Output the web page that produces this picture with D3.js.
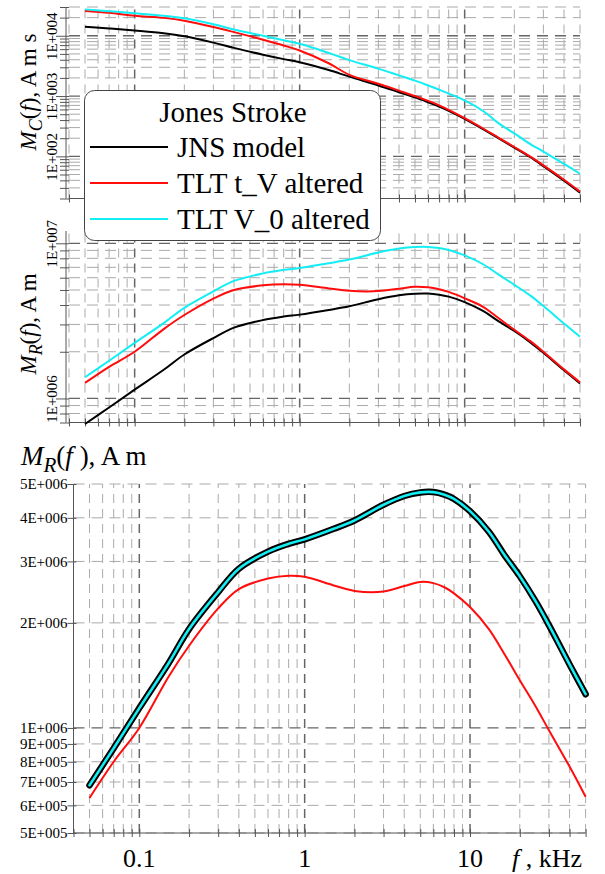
<!DOCTYPE html>
<html>
<head>
<meta charset="utf-8">
<script src="https://cdn.jsdelivr.net/npm/d3@7"></script>
<style>
  html, body { margin: 0; padding: 0; background: #fff; }
  svg { display: block; font-family: "Liberation Serif", "Times New Roman", serif; }
</style>
</head>
<body>
<svg id="chart" width="605" height="874"></svg>
<script>
// Frequency samples, kHz
const freq = [0.05, 0.07, 0.1, 0.15, 0.2, 0.3, 0.4, 0.6, 0.8, 1, 1.5, 2, 3, 4, 5, 6, 7, 8, 10, 13, 16, 20, 25, 30, 40, 50];

// Charge moment spectrum M_C(f), A m s
const mcJNS = [14100, 13200, 12200, 11000, 9800, 7700, 6300, 4850, 4100, 3640, 2700, 2100, 1500, 1160, 950, 790, 670, 570, 420, 280, 200, 140, 97, 69, 39.5, 25];
const mcTV  = [25800, 24000, 21500, 19800, 17800, 14000, 11500, 8600, 6900, 5700, 3500, 2250, 1600, 1230, 1000, 830, 700, 590, 430, 287, 205, 143, 99, 71, 41, 26];
const mcV0  = [27400, 25500, 23600, 21500, 19500, 15500, 12700, 10000, 8400, 7360, 5200, 3950, 2850, 2200, 1800, 1500, 1280, 1100, 850, 560, 355, 240, 160, 120, 75, 51.5];

// Current moment spectrum M_R(f), A m
const mrJNS = [6.85e5, 8.75e5, 1.14e6, 1.53e6, 1.92e6, 2.45e6, 2.86e6, 3.2e6, 3.37e6, 3.47e6, 3.72e6, 3.93e6, 4.36e6, 4.62e6, 4.73e6, 4.74e6, 4.66e6, 4.53e6, 4.18e6, 3.65e6, 3.15e6, 2.72e6, 2.3e6, 1.97e6, 1.52e6, 1.25e6];
const mrTV  = [1.26e6, 1.6e6, 2.0e6, 2.8e6, 3.45e6, 4.4e6, 5.0e6, 5.36e6, 5.45e6, 5.4e6, 5.12e6, 4.94e6, 4.92e6, 5.1e6, 5.24e6, 5.2e6, 5.06e6, 4.86e6, 4.42e6, 3.88e6, 3.3e6, 2.77e6, 2.34e6, 2.0e6, 1.54e6, 1.27e6];
const mrV0  = [1.37e6, 1.75e6, 2.28e6, 3.06e6, 3.84e6, 4.9e6, 5.72e6, 6.4e6, 6.74e6, 6.94e6, 7.44e6, 7.86e6, 8.72e6, 9.24e6, 9.46e6, 9.48e6, 9.32e6, 9.06e6, 8.36e6, 7.3e6, 6.3e6, 5.4e6, 4.6e6, 3.94e6, 3.04e6, 2.5e6];

// Lower plot: altered spectra at half amplitude, compared with the model
const mrTVhalf = [6.3e5, 8.0e5, 1.0e6, 1.4e6, 1.72e6, 2.2e6, 2.5e6, 2.68e6, 2.73e6, 2.71e6, 2.56e6, 2.47e6, 2.46e6, 2.55e6, 2.62e6, 2.6e6, 2.53e6, 2.43e6, 2.22e6, 1.92e6, 1.64e6, 1.37e6, 1.15e6, 0.985e6, 0.775e6, 0.635e6];
const mrV0half = [6.85e5, 8.75e5, 1.14e6, 1.53e6, 1.92e6, 2.45e6, 2.86e6, 3.2e6, 3.37e6, 3.47e6, 3.72e6, 3.93e6, 4.36e6, 4.62e6, 4.73e6, 4.74e6, 4.66e6, 4.53e6, 4.18e6, 3.65e6, 3.15e6, 2.72e6, 2.3e6, 1.97e6, 1.52e6, 1.25e6];

const seriesNames = ["JNS model", "TLT t_V altered", "TLT V_0 altered"];
const legendTitle = "Jones Stroke";
const xTickLabels = [0.1, 1, 10];
const bottomYTicks = [5e5, 6e5, 7e5, 8e5, 9e5, 1e6, 2e6, 3e6, 4e6, 5e6];
const xDomain = [0.04, 50];

const BLACK = "#000000", RED = "#ff0d0d", CYAN = "#12eef4";
const svg = d3.select("#chart");

const isMajor = v => Math.abs(Math.log10(v) - Math.round(Math.log10(v))) < 1e-6;
const sci = v => {
  const e = Math.floor(Math.log10(v) + 1e-9);
  const m = Math.round(v / Math.pow(10, e));
  return m + "E+" + String(e).padStart(3, "0");
};

function drawPanel(cfg) {
  const x = d3.scaleLog().domain(xDomain).range(cfg.xr);
  const y = d3.scaleLog().domain(cfg.yd).range(cfg.yr);
  const g = svg.append("g");
  const [x0, x1] = cfg.xr, [yb, yt] = cfg.yr;

  // grid
  const grid = g.append("g").attr("fill", "none");
  x.ticks().forEach(v => {
    const maj = isMajor(v);
    grid.append("line")
      .attr("x1", x(v)).attr("x2", x(v)).attr("y1", yb).attr("y2", yt)
      .attr("stroke", maj ? "#666" : "#aaa").attr("stroke-width", maj ? 1.5 : 1)
      .attr("stroke-dasharray", "9,6");
  });
  y.ticks().forEach(v => {
    const maj = isMajor(v);
    grid.append("line")
      .attr("x1", x0).attr("x2", x1).attr("y1", y(v)).attr("y2", y(v))
      .attr("stroke", maj ? "#666" : "#aaa").attr("stroke-width", maj ? 1.3 : 1)
      .attr("stroke-dasharray", "11,7");
  });

  // x axis with ticks crossing the line
  const xAxis = g.append("g").attr("transform", `translate(0,${yb})`)
    .call(d3.axisBottom(x).tickValues(x.ticks()).tickSize(4).tickFormat(""));
  xAxis.select(".domain").attr("stroke", "#555").attr("d", `M${x0},0H${x1}`);
  xAxis.selectAll(".tick line").attr("y1", -4).attr("y2", 4).attr("stroke", "#555");

  // y axis
  const yVals = cfg.yTicks || y.ticks();
  const yAxis = g.append("g").attr("transform", `translate(${x0 - cfg.axisGap},0)`)
    .call(d3.axisLeft(y).tickValues(yVals).tickSize(5)
      .tickFormat(d => (cfg.labelAll || isMajor(d)) ? sci(d) : ""));
  yAxis.attr("font-family", null).attr("font-size", null);
  yAxis.select(".domain").attr("stroke", "#555").attr("d", `M0,${yb}V${yt}`);
  yAxis.selectAll(".tick line")
    .attr("x1", d => isMajor(d) && !cfg.labelAll ? -10 : -6)
    .attr("x2", 3).attr("stroke", "#555");
  yAxis.selectAll(".tick text").attr("fill", "#000").attr("font-size", cfg.tickFont);
  if (cfg.rotateLabels) {
    yAxis.selectAll(".tick text")
      .attr("transform", "rotate(-90)")
      .attr("x", 0).attr("y", -cfg.labelOffset).attr("dy", 0)
      .attr("text-anchor", "middle");
  } else {
    yAxis.selectAll(".tick text").attr("x", -6).attr("dy", "0.33em");
  }
  return { x, y, g };
}

function drawSeries(p, values, color, width, extra) {
  const line = d3.line()
    .x((d, i) => p.x(freq[i])).y(d => p.y(d))
    .curve(d3.curveCatmullRom.alpha(0.5));
  const path = p.g.append("path").datum(values)
    .attr("d", line).attr("fill", "none")
    .attr("stroke", color).attr("stroke-width", width)
    .attr("stroke-linejoin", "round");
  if (extra) extra(path);
}

function axisTitle(sel, sub, rest, size) {
  sel.append("tspan").attr("font-style", "italic").text("M");
  sel.append("tspan").attr("font-style", "italic").attr("font-size", size * 0.78).attr("dy", size * 0.26).text(sub);
  sel.append("tspan").attr("dy", -size * 0.26).text("(");
  sel.append("tspan").attr("font-style", "italic").text("f");
  sel.append("tspan").text(rest);
}

// ---- upper panel: M_C ----
const pTop = drawPanel({
  xr: [69, 580], yd: [20, 3e4], yr: [198.5, 7],
  axisGap: 3, tickFont: 15, rotateLabels: true, labelOffset: 9
});
drawSeries(pTop, mcJNS, BLACK, 2);
drawSeries(pTop, mcTV, RED, 2);
drawSeries(pTop, mcV0, CYAN, 2);
axisTitle(svg.append("text").attr("transform", "translate(36,92) rotate(-90)")
  .attr("text-anchor", "middle").attr("font-size", 23), "C", "), A m s", 23);

// ---- middle panel: M_R ----
const pMid = drawPanel({
  xr: [69, 580], yd: [7e5, 1.2e7], yr: [422.5, 231],
  axisGap: 3, tickFont: 15, rotateLabels: true, labelOffset: 9
});
drawSeries(pMid, mrJNS, BLACK, 2);
drawSeries(pMid, mrTV, RED, 2);
drawSeries(pMid, mrV0, CYAN, 2);
axisTitle(svg.append("text").attr("transform", "translate(36,324) rotate(-90)")
  .attr("text-anchor", "middle").attr("font-size", 23), "R", "), A m", 23);

// ---- legend ----
const lg = svg.append("g");
lg.append("rect").attr("x", 84.5).attr("y", 90.5).attr("width", 296).attr("height", 150)
  .attr("rx", 10).attr("fill", "#fff").attr("stroke", "#444").attr("stroke-width", 1);
lg.append("text").attr("x", 233).attr("y", 122).attr("text-anchor", "middle")
  .attr("font-size", 29).text(legendTitle);
[BLACK, RED, CYAN].forEach((c, i) => {
  const yy = 147 + i * 36;
  lg.append("line").attr("x1", 90).attr("x2", 168).attr("y1", yy).attr("y2", yy)
    .attr("stroke", c).attr("stroke-width", 2);
  lg.append("text").attr("x", 177).attr("y", yy + 10).attr("font-size", 29).text(seriesNames[i]);
});

// ---- lower panel: M_R comparison ----
const pBot = drawPanel({
  xr: [73.5, 585.6], yd: [5e5, 5e6], yr: [833, 484],
  axisGap: 0, tickFont: 15, rotateLabels: false, labelAll: true, yTicks: bottomYTicks
});
drawSeries(pBot, mrTVhalf, RED, 2);
drawSeries(pBot, mrJNS, BLACK, 6.5, p => p.attr("stroke-linecap", "round"));
drawSeries(pBot, mrV0half, CYAN, 2.6, p => p.attr("stroke-linecap", "round"));

svg.append("g").selectAll("text").data(xTickLabels).join("text")
  .attr("x", d => pBot.x(d)).attr("y", 867).attr("text-anchor", "middle")
  .attr("font-size", 26).text(d => d);

const xt = svg.append("text").attr("x", 512).attr("y", 867).attr("font-size", 26);
xt.append("tspan").attr("font-style", "italic").text("f");
xt.append("tspan").text(" , kHz");

axisTitle(svg.append("text").attr("x", 21).attr("y", 465).attr("font-size", 27), "R", " ), A m", 27);
</script>
</body>
</html>
